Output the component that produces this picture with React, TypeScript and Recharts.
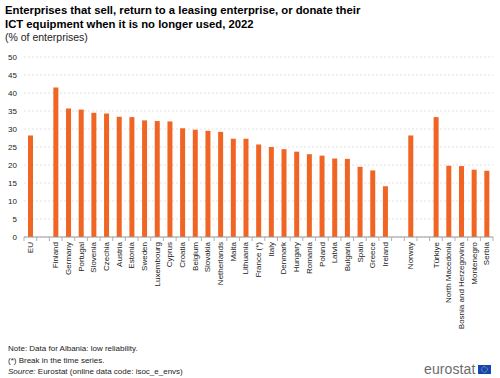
import React from "react";
import { BarChart, Bar, XAxis, YAxis, CartesianGrid } from "recharts";

const categories: string[] = [
  "EU", "", "Finland", "Germany", "Portugal", "Slovenia", "Czechia", "Austria", "Estonia",
  "Sweden", "Luxembourg", "Cyprus", "Croatia", "Belgium", "Slovakia", "Netherlands", "Malta",
  "Lithuania", "France (*)", "Italy", "Denmark", "Hungary", "Romania", "Poland", "Latvia",
  "Bulgaria", "Spain", "Greece", "Ireland", " ", "Norway", "  ", "Türkiye", "North Macedonia",
  "Bosnia and Herzegovina", "Montenegro", "Serbia",
];

const values: (number | null)[] = [
  28.2, null, 41.5, 35.7, 35.4, 34.5, 34.3, 33.4, 33.3,
  32.4, 32.2, 32.1, 30.2, 29.8, 29.5, 29.2, 27.3,
  27.3, 25.7, 25.0, 24.4, 23.7, 23.0, 22.6, 21.8,
  21.7, 19.5, 18.5, 14.1, null, 28.2, null, 33.3, 19.8,
  19.7, 18.7, 18.4,
];

const yTicks = [0, 5, 10, 15, 20, 25, 30, 35, 40, 45, 50];

const data = categories.map((c, i) => ({ name: c, value: values[i] }));

const FONT = "'Liberation Sans', Arial, sans-serif";
const ORANGE = "#F06424";

const XTick = (props: any) => {
  const { x, y, payload, index } = props;
  const half = payload && payload.offset ? payload.offset : 6.33;
  const axisY = y - 8;
  const isLast = index === categories.length - 1;
  return (
    <g>
      <line x1={x - half} x2={x - half} y1={axisY} y2={axisY + 4} stroke="#b0b0b0" strokeWidth={1} />
      {isLast && (
        <line x1={x + half} x2={x + half} y1={axisY} y2={axisY + 4} stroke="#b0b0b0" strokeWidth={1} />
      )}
      <text
        transform={`translate(${x},${axisY + 5}) rotate(-90)`}
        textAnchor="end"
        dy="0.33em"
        fontSize={8}
        fontFamily={FONT}
        fill="#222"
      >
        {payload.value.trim()}
      </text>
    </g>
  );
};

export default function App() {
  return (
    <div style={{ position: "fixed", top: 0, left: 0, width: 500, height: 378, background: "#fff", fontFamily: FONT }}>
      <div style={{ position: "absolute", left: 5, top: 3, fontSize: 11.3, fontWeight: "bold", lineHeight: "14px", color: "#000", width: 480 }}>
        Enterprises that sell, return to a leasing enterprise, or donate their
        <br />
        ICT equipment when it is no longer used, 2022
      </div>
      <div style={{ position: "absolute", left: 5, top: 31, fontSize: 10.5, color: "#222" }}>
        (% of enterprises)
      </div>
      <div style={{ position: "absolute", left: 0, top: 0 }}>
        <BarChart
          width={500}
          height={378}
          data={data}
          margin={{ top: 57, right: 7, bottom: 0, left: 0 }}
          barCategoryGap={0}
        >
          <CartesianGrid vertical={false} stroke="#e2e2e2" strokeDasharray="2 2" />
          <YAxis
            width={24}
            domain={[0, 50]}
            ticks={yTicks}
            interval={0}
            axisLine={false}
            tickLine={false}
            tickSize={5}
            tickMargin={2}
            tick={{ fontSize: 8, fontFamily: FONT, fill: "#222" }}
          />
          <XAxis
            dataKey="name"
            height={141}
            interval={0}
            axisLine={{ stroke: "#999999" }}
            tickLine={false}
            tick={<XTick />}
          />
          <Bar dataKey="value" fill={ORANGE} barSize={5} isAnimationActive={false} />
        </BarChart>
      </div>
      <div style={{ position: "absolute", left: 8, top: 343, fontSize: 8, lineHeight: "11.5px", color: "#222" }}>
        <div>Note: Data for Albania: low reliability.</div>
        <div>(*) Break in the time series.</div>
        <div>
          <i>Source:</i> Eurostat (online data code: isoc_e_envs)
        </div>
      </div>
      <div style={{ position: "absolute", left: 424, top: 361, fontSize: 14, color: "#6b6b6b", fontWeight: 500, letterSpacing: 0.1 }}>
        eurostat
      </div>
      <svg style={{ position: "absolute", left: 478, top: 365 }} width={13} height={9}>
        <rect x={0} y={0} width={13} height={9} fill="#1046b8" />
        <circle cx={6.5} cy={4.5} r={2.8} fill="none" stroke="#f5d328" strokeWidth={0.8} strokeDasharray="0.8 0.6" />
      </svg>
    </div>
  );
}
